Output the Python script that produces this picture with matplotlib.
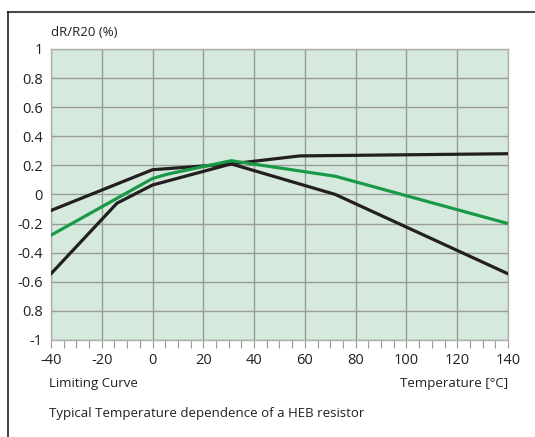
import numpy as np
import matplotlib.pyplot as plt
from matplotlib.lines import Line2D

plt.rcParams['font.family'] = ['Open Sans', 'DejaVu Sans']
plt.rcParams['axes.unicode_minus'] = False

# data (temperature in degC, dR/R20 in %)
upper_t = [-40, 0, 31, 58, 140]
upper_v = [-0.11, 0.17, 0.21, 0.265, 0.28]
lower_t = [-40, -14, 0, 31, 72, 140]
lower_v = [-0.545, -0.06, 0.065, 0.21, 0.0, -0.545]
typical_t = [-40, 0, 6, 31, 72, 140]
typical_v = [-0.28, 0.11, 0.14, 0.232, 0.125, -0.2]

xticks = list(range(-40, 141, 20))
yticks = [1, 0.8, 0.6, 0.4, 0.2, 0, -0.2, -0.4, -0.6, -0.8, -1]
ylabels = ['1', '0.8', '0.6', '0.4', '0.2', '0', '-0.2', '-0.4', '-0.6', '0.8', '-1']

fig = plt.figure(figsize=(5.35, 4.37), dpi=100)
ax = fig.add_axes([0.0953, 0.222, 0.8542, 0.666])
ax.set_facecolor('#d5eadd')

ax.plot(upper_t, upper_v, color='#231f20', lw=2.3, solid_joinstyle='miter', zorder=3)
ax.plot(lower_t, lower_v, color='#231f20', lw=2.3, solid_joinstyle='miter', zorder=3)
ax.plot(typical_t, typical_v, color='#1a9a48', lw=2.3, solid_joinstyle='miter', zorder=4)

ax.set_xlim(-40, 140)
ax.set_ylim(-1, 1)
ax.set_xticks(xticks)
ax.set_xticks(range(-40, 141, 5), minor=True)
ax.set_yticks(yticks)
ax.set_yticklabels(ylabels)
ax.grid(True, color='#9a9a9a', lw=1.0)
ax.set_axisbelow(True)

ax.tick_params(axis='y', length=0, pad=6, labelsize=10.5, colors='#231f20')
ax.tick_params(axis='x', which='both', length=5.5, width=0.8, color='#9a9a9a',
               direction='out', pad=4, labelsize=10.5, labelcolor='#231f20')
for s in ax.spines.values():
    s.set_color('#b0b0b0')
    s.set_linewidth(1.0)

fig.text(51/535, 1 - 33/437, 'dR/R20 (%)', fontsize=9.5, va='center', ha='left', color='#231f20')
fig.text(49/535, 1 - 384/437, 'Limiting Curve', fontsize=9.5, va='center', ha='left', color='#231f20')
fig.text(508/535, 1 - 384/437, 'Temperature [°C]', fontsize=9.5, va='center', ha='right', color='#231f20')
fig.text(49/535, 1 - 413/437, 'Typical Temperature dependence of a HEB resistor', fontsize=9.5,
         va='center', ha='left', color='#231f20')

# outer frame (top and left edges visible)
fig.add_artist(Line2D([8/535, 1.0], [1 - 12/437, 1 - 12/437], color='#4a4a4a', lw=1.5))
fig.add_artist(Line2D([8/535, 8/535], [0.0, 1 - 12/437], color='#231f20', lw=1.2))

fig.savefig('out.png', dpi=100)
